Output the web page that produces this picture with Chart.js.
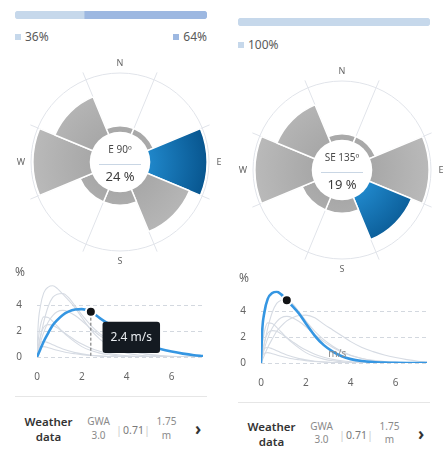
<!DOCTYPE html>
<html>
<head>
<meta charset="utf-8">
<script src="https://cdn.jsdelivr.net/npm/chart.js@4.4.1/dist/chart.umd.min.js"></script>
<style>
html,body{margin:0;padding:0;background:#fff;width:444px;height:459px;overflow:hidden;font-family:'Noto Sans',sans-serif;}
canvas{position:absolute;display:block;}
.legend{position:absolute;display:flex;justify-content:space-between;font-size:12px;color:#5a5a5a;line-height:14px;}
.legend span.item{display:flex;align-items:center;}
.legend i{display:inline-block;width:6px;height:6px;margin-right:4px;}
.sep{position:absolute;height:1px;background:#e6e6e6;}
.cell{position:absolute;text-align:center;}
.wd{font-size:11.5px;font-weight:600;color:#333;line-height:15px;}
.src{font-size:10px;color:#8a8a8a;line-height:13.5px;}
.pipe{font-size:10px;color:#c8c8c8;line-height:12px;}
.val{font-size:10.5px;color:#7a7a7a;line-height:12px;}
.chev{font-size:17px;font-weight:700;color:#333;line-height:16px;}
</style>
</head>
<body>
<canvas id="barL" width="192" height="8" style="left:15px;top:10.5px;width:192px;height:8px"></canvas>
<canvas id="barR" width="192" height="8" style="left:238px;top:18px;width:192px;height:8px"></canvas>
<div id="legL" class="legend" style="left:15px;top:29.5px;width:192px"></div>
<div id="legR" class="legend" style="left:238px;top:37.5px;width:192px"></div>
<canvas id="roseL" width="240" height="240" style="left:0px;top:42px;width:240px;height:240px"></canvas>
<canvas id="roseR" width="240" height="240" style="left:222px;top:50px;width:240px;height:240px"></canvas>
<canvas id="lineL" width="222" height="130" style="left:0px;top:262px;width:222px;height:130px"></canvas>
<canvas id="lineR" width="220" height="130" style="left:224px;top:268px;width:220px;height:130px"></canvas>
<div id="footL"></div>
<div id="footR"></div>
<script>
// ---------- data ----------
const directions = ['N', 'NE', 'E', 'SE', 'S', 'SW', 'W', 'NW'];
const bearings = [0, 45, 90, 135, 180, 225, 270, 315];
const frequency = [2.5, 2.5, 24, 19, 5.5, 5.5, 24, 17];
const compassLabels = ['N', 'E', 'S', 'W'];
const highlightLeft = 2;   // E
const highlightRight = 3;  // SE
const sharesLeft = [36, 64];
const sharesRight = [100];

const speed = [0, 0.05, 0.15, 0.3, 0.5, 0.7, 0.9, 1.15, 1.4, 1.7, 2.0, 2.4, 2.8, 3.2, 3.6, 4.0, 4.5, 5.0, 5.5, 6.0, 6.5, 7.0, 7.4];
const curveN  = [0, 0.7, 1.1, 1.2, 1.1, 0.95, 0.8, 0.62, 0.48, 0.34, 0.24, 0.14, 0.08, 0.04, 0.02, 0.01, 0, 0, 0, 0, 0, 0, 0];
const curveNE = [0, 0.5, 0.75, 0.8, 0.72, 0.62, 0.52, 0.42, 0.33, 0.25, 0.18, 0.11, 0.07, 0.04, 0.02, 0.01, 0, 0, 0, 0, 0, 0, 0];
const curveE  = [0, 0.2, 0.6, 1.2, 1.85, 2.45, 2.85, 3.25, 3.5, 3.67, 3.7, 3.5, 3.0, 2.55, 2.1, 1.65, 1.2, 0.88, 0.62, 0.42, 0.26, 0.14, 0.08];
const curveSE = [0, 2.4, 3.9, 4.95, 5.4, 5.5, 5.3, 4.85, 4.4, 3.8, 3.05, 2.1, 1.38, 0.88, 0.52, 0.3, 0.15, 0.07, 0.03, 0.01, 0, 0, 0];
const curveS  = [0, 0.7, 1.6, 2.3, 2.5, 2.45, 2.25, 1.95, 1.65, 1.3, 1.0, 0.68, 0.45, 0.28, 0.17, 0.1, 0.05, 0.02, 0, 0, 0, 0, 0];
const curveSW = [0, 1.2, 2.4, 3.1, 3.05, 2.75, 2.4, 1.95, 1.55, 1.15, 0.8, 0.5, 0.3, 0.17, 0.1, 0.05, 0.02, 0, 0, 0, 0, 0, 0];
const curveW  = [0, 0.4, 1.1, 1.9, 2.7, 3.2, 3.5, 3.6, 3.5, 3.2, 2.8, 2.2, 1.65, 1.2, 0.85, 0.58, 0.35, 0.2, 0.11, 0.05, 0.02, 0.01, 0];
const curveNW = [0, 0.5, 1.5, 2.7, 3.9, 4.6, 4.85, 4.9, 4.6, 3.95, 3.25, 2.45, 1.8, 1.3, 0.9, 0.6, 0.35, 0.18, 0.08, 0.03, 0.01, 0, 0];
const curves = [curveN, curveNE, curveE, curveSE, curveS, curveSW, curveW, curveNW];

const markerSpeedLeft = 2.4;
const markerSpeedRight = 1.15;
const speedTicks = [0, 2, 4, 6];
const pctTicks = [0, 2, 4];
const speedMax = 7.4;
const pctMax = 5.6;
const unitLabel = 'm/s';

const footerSource = ['GWA', '3.0'];
const footerFactor = '0.71';
const footerHeight = ['1.75', 'm'];

// ---------- setup ----------
Chart.defaults.font.family = "'Noto Sans', sans-serif";
Chart.defaults.animation = false;

const barColors = ['#c6d8eb', '#9db8e1'];

function makeBar(id, shares) {
  const last = shares.length - 1;
  new Chart(document.getElementById(id), {
    type: 'bar',
    data: {
      labels: [''],
      datasets: shares.map((v, i) => ({
        data: [v],
        backgroundColor: barColors[i],
        borderWidth: 0,
        borderSkipped: false,
        borderRadius: {topLeft: i === 0 ? 4 : 0, bottomLeft: i === 0 ? 4 : 0, topRight: i === last ? 4 : 0, bottomRight: i === last ? 4 : 0},
        barPercentage: 1,
        categoryPercentage: 1
      }))
    },
    options: {
      indexAxis: 'y', responsive: false, events: [],
      layout: {padding: 0},
      plugins: {legend: {display: false}, tooltip: {enabled: false}},
      scales: {
        x: {display: false, stacked: true, min: 0, max: 100},
        y: {display: false, stacked: true}
      }
    }
  });
}
function makeLegend(id, shares) {
  const el = document.getElementById(id);
  shares.forEach((v, i) => {
    const s = document.createElement('span');
    s.className = 'item';
    s.innerHTML = '<i style="background:' + barColors[i] + '"></i>' + v + '%';
    el.appendChild(s);
  });
}
makeBar('barL', sharesLeft); makeLegend('legL', sharesLeft);
makeBar('barR', sharesRight); makeLegend('legR', sharesRight);

// ---------- wind roses ----------
function rosePlugin(hi) {
  return {
    id: 'roseDecor',
    beforeDatasetsDraw(chart) {
      const s = chart.scales.r, ctx = chart.ctx;
      const cx = s.xCenter, cy = s.yCenter, R = s.drawingArea;
      const n = chart.data.labels.length;
      ctx.save();
      ctx.strokeStyle = '#e1e4ea';
      ctx.lineWidth = 1;
      ctx.beginPath(); ctx.arc(cx, cy, R, 0, Math.PI * 2); ctx.stroke();
      for (let i = 0; i < n; i++) {
        const a = s.getIndexAngle(i) - Math.PI / 2;
        ctx.beginPath();
        ctx.moveTo(cx, cy);
        ctx.lineTo(cx + Math.cos(a) * (R + 8), cy + Math.sin(a) * (R + 8));
        ctx.stroke();
      }
      ctx.fillStyle = '#666';
      ctx.font = "9px 'Noto Sans'";
      ctx.textAlign = 'center';
      ctx.textBaseline = 'middle';
      compassLabels.forEach(lbl => {
        const i = directions.indexOf(lbl);
        const a = s.getIndexAngle(i) + Math.PI / n - Math.PI / 2;
        ctx.fillText(lbl, cx + Math.cos(a) * (R + 10), cy + Math.sin(a) * (R + 10));
      });
      ctx.restore();
    },
    afterDatasetsDraw(chart) {
      const s = chart.scales.r, ctx = chart.ctx;
      const cx = s.xCenter, cy = s.yCenter;
      const r0 = s.getDistanceFromCenterForValue(0);
      ctx.save();
      ctx.fillStyle = '#fff';
      ctx.beginPath(); ctx.arc(cx, cy, r0, 0, Math.PI * 2); ctx.fill();
      ctx.textAlign = 'center';
      ctx.textBaseline = 'middle';
      ctx.fillStyle = '#4a4a4a';
      ctx.font = "10px 'Noto Sans'";
      ctx.fillText(directions[hi] + ' ' + bearings[hi] + 'º', cx, cy - 12);
      ctx.strokeStyle = '#c9d6e4';
      ctx.lineWidth = 1;
      ctx.beginPath(); ctx.moveTo(cx - 21, cy + 2.5); ctx.lineTo(cx + 21, cy + 2.5); ctx.stroke();
      ctx.fillStyle = '#3c3c3c';
      ctx.font = "13px 'Noto Sans'";
      ctx.fillText(frequency[hi] + ' %', cx, cy + 15);
      ctx.restore();
    }
  };
}
function makeRose(id, hi) {
  new Chart(document.getElementById(id), {
    type: 'polarArea',
    data: {
      labels: directions,
      datasets: [{
        data: frequency,
        borderColor: '#fff',
        borderWidth: 1.5,
        backgroundColor: (c) => {
          const chart = c.chart, s = chart.scales.r;
          if (!s || !chart.chartArea || !s.drawingArea) return c.dataIndex === hi ? '#0e6aad' : '#b2b2b2';
          const r0 = s.getDistanceFromCenterForValue(0);
          const g = chart.ctx.createRadialGradient(s.xCenter, s.yCenter, r0, s.xCenter, s.yCenter, s.drawingArea);
          if (c.dataIndex === hi) { g.addColorStop(0, '#1f86c9'); g.addColorStop(1, '#07548d'); }
          else { g.addColorStop(0, '#a8a8a8'); g.addColorStop(1, '#bababa'); }
          return g;
        }
      }]
    },
    options: {
      responsive: false, events: [],
      layout: {padding: 31},
      plugins: {legend: {display: false}, tooltip: {enabled: false}},
      scales: {
        r: {
          min: -12.8, max: 24.8,
          startAngle: -22.5,
          grid: {display: false},
          angleLines: {display: false},
          ticks: {display: false},
          pointLabels: {display: false}
        }
      }
    },
    plugins: [rosePlugin(hi)]
  });
}
makeRose('roseL', highlightLeft);
makeRose('roseR', highlightRight);

// ---------- speed distributions ----------
Chart.Tooltip.positioners.belowRight = function(items) {
  if (!items.length) return false;
  const el = items[0].element;
  return {x: el.x + 14.7, y: el.y + 10};
};

function linePlugin(guide, markerSpeed, hi) {
  return {
    id: 'lineDecor',
    afterDatasetsDraw(chart) {
      const {ctx, chartArea} = chart;
      const x = chart.scales.x, y = chart.scales.y;
      ctx.save();
      ctx.textAlign = 'center';
      ctx.textBaseline = 'middle';
      ctx.fillStyle = '#666';
      ctx.font = "12px 'Noto Sans'";
      ctx.fillText('%', chartArea.left - 17, 11);
      ctx.fillStyle = '#8c8c8c';
      ctx.font = "10px 'Noto Sans'";
      ctx.fillText(unitLabel, x.getPixelForValue(3.4), y.getPixelForValue(0.72));
      if (guide) {
        const idx = speed.indexOf(markerSpeed);
        const px = x.getPixelForValue(markerSpeed);
        const py = y.getPixelForValue(curves[hi][idx]);
        ctx.strokeStyle = '#6b6b6b';
        ctx.lineWidth = 1;
        ctx.setLineDash([3, 2]);
        ctx.beginPath();
        ctx.moveTo(px, py + 6);
        ctx.lineTo(px, y.getPixelForValue(0));
        ctx.stroke();
      }
      ctx.restore();
    }
  };
}

function makeLine(id, hi, markerSpeed, showTip) {
  const markerIdx = speed.indexOf(markerSpeed);
  const datasets = curves.map((cv, i) => {
    const isHi = i === hi;
    return {
      data: speed.map((s, k) => ({x: s, y: cv[k]})),
      borderColor: isHi ? '#3596e2' : '#d6dbe3',
      borderWidth: isHi ? 2.6 : 1.1,
      cubicInterpolationMode: 'monotone',
      fill: false,
      order: isHi ? 0 : 1,
      pointRadius: isHi ? (c) => (c.dataIndex === markerIdx ? 5 : 0) : 0,
      pointHoverRadius: isHi ? (c) => (c.dataIndex === markerIdx ? 5 : 0) : 0,
      pointBackgroundColor: '#121417',
      pointBorderColor: '#fff',
      pointBorderWidth: 2,
      pointHoverBorderWidth: 2
    };
  });
  const chart = new Chart(document.getElementById(id), {
    type: 'line',
    data: {datasets},
    options: {
      responsive: false, events: [],
      layout: {padding: {top: 22.5, right: id === 'lineL' ? 19 : 17, left: 0, bottom: 0}},
      plugins: {
        legend: {display: false},
        tooltip: {
          enabled: showTip,
          position: 'belowRight',
          xAlign: 'left', yAlign: 'top',
          caretSize: 0, caretPadding: 0, cornerRadius: 3,
          backgroundColor: '#141a21',
          displayColors: false,
          padding: {x: 8, y: 8.5},
          bodyFont: {family: "'Noto Sans', sans-serif", size: 12},
          bodyColor: '#e8ecf0',
          callbacks: {title: () => '', label: (c) => c.parsed.x + ' ' + unitLabel}
        }
      },
      scales: {
        x: {
          type: 'linear', min: 0, max: speedMax,
          afterBuildTicks: (s) => { s.ticks = speedTicks.map(v => ({value: v})); },
          afterFit: (s) => { s.height = 35; },
          grid: {display: false, drawTicks: false},
          border: {display: false},
          ticks: {color: '#666', font: {size: 10}, padding: 14, maxRotation: 0}
        },
        y: {
          type: 'linear', min: 0, max: pctMax,
          afterBuildTicks: (s) => { s.ticks = pctTicks.map(v => ({value: v})); },
          afterFit: (s) => { s.width = 37; },
          grid: {color: '#d3d8df', lineWidth: 1, drawTicks: false},
          border: {display: false, dash: [4, 3]},
          ticks: {color: '#666', font: {size: 10}, padding: 15}
        }
      }
    },
    plugins: [linePlugin(showTip, markerSpeed, hi)]
  });
  if (showTip) {
    const el = chart.getDatasetMeta(hi).data[markerIdx];
    chart.tooltip.setActiveElements([{datasetIndex: hi, index: markerIdx}], {x: el.x, y: el.y});
    chart.update();
  }
}
makeLine('lineL', highlightLeft, markerSpeedLeft, true);
makeLine('lineR', highlightRight, markerSpeedRight, false);

// ---------- footer ----------
function makeFooter(id, dx, dy, sepDy) {
  const root = document.getElementById(id);
  const add = (cls, style, html) => {
    const d = document.createElement('div');
    d.className = cls; d.setAttribute('style', style); d.innerHTML = html; root.appendChild(d);
  };
  add('sep', 'left:' + (15 + dx) + 'px;top:' + (396 + sepDy) + 'px;width:192px;', '');
  add('cell wd', 'left:' + (17 + dx) + 'px;top:' + (414 + dy) + 'px;width:63px;', 'Weather<br>data');
  add('cell src', 'left:' + (83 + dx) + 'px;top:' + (415 + dy) + 'px;width:31px;', footerSource.join('<br>'));
  add('cell pipe', 'left:' + (115 + dx) + 'px;top:' + (424 + dy) + 'px;width:8px;', '|');
  add('cell val', 'left:' + (121 + dx) + 'px;top:' + (424 + dy) + 'px;width:25px;', footerFactor);
  add('cell pipe', 'left:' + (143 + dx) + 'px;top:' + (424 + dy) + 'px;width:8px;', '|');
  add('cell src', 'left:' + (152 + dx) + 'px;top:' + (415 + dy) + 'px;width:29px;', footerHeight.join('<br>'));
  add('cell chev', 'left:' + (192 + dx) + 'px;top:' + (421 + dy) + 'px;width:12px;', '›');
}
makeFooter('footL', 0, 0, 0);
makeFooter('footR', 223, 4.5, 6);
</script>
</body>
</html>
